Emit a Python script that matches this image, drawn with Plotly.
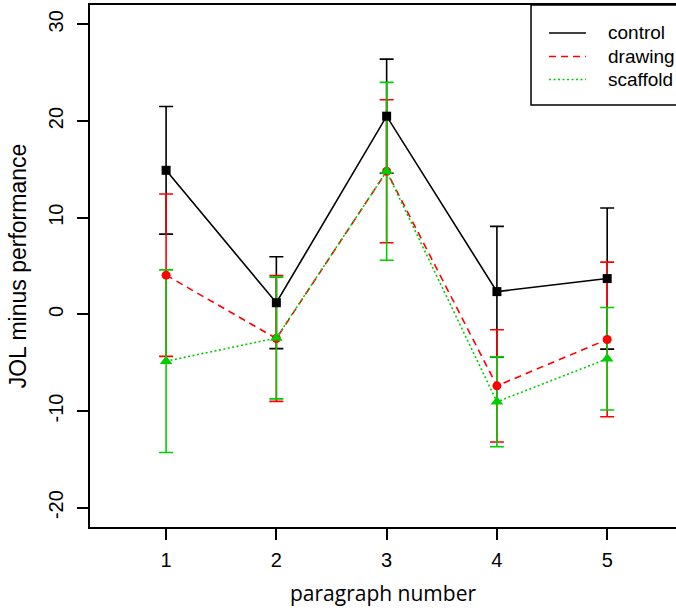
import plotly.graph_objects as go

paragraphs = [1, 2, 3, 4, 5]
tick_vals_y = [-20, -10, 0, 10, 20, 30]

control_mean = [14.9, 1.2, 20.5, 2.35, 3.7]
control_err = [6.6, 4.75, 5.9, 6.75, 7.3]
drawing_mean = [4.05, -2.5, 14.8, -7.4, -2.6]
drawing_err = [8.4, 6.5, 7.4, 5.8, 8.0]
scaffold_mean = [-4.85, -2.45, 14.8, -9.05, -4.6]
scaffold_err = [9.45, 6.3, 9.2, 4.65, 5.3]

series = [
    ("control", control_mean, control_err, "#000000", "solid", "square", 9),
    ("drawing", drawing_mean, drawing_err, "#FF0000", "7px,5px", "circle", 9),
    ("scaffold", scaffold_mean, scaffold_err, "#00CD00", "2px,2.5px", "triangle-up", 11),
]

fig = go.Figure()

# error bars first (underneath)
for name, m, e, col, dash, sym, sz in series:
    fig.add_trace(go.Scatter(
        x=paragraphs, y=m, mode="markers",
        marker=dict(size=1, color="rgba(0,0,0,0)"),
        error_y=dict(type="data", array=e, visible=True, color=col,
                     thickness=1.6, width=7),
        showlegend=False, hoverinfo="skip",
    ))

# lines and markers
for name, m, e, col, dash, sym, sz in series:
    fig.add_trace(go.Scatter(
        x=paragraphs, y=m, mode="lines+markers", name=name,
        line=dict(color=col, dash=dash, width=1.6),
        marker=dict(symbol=sym, size=sz, color=col),
        showlegend=False,
    ))

# legend drawn by hand so that its box can run off the right edge, as in the original
leg_x0, leg_x1, leg_y0, leg_y1 = 0.7526, 1.06, 0.8084, 1.0
leg_line_x0, leg_line_x1, leg_text_x = 0.7833, 0.8464, 0.8805
leg_rows = [0.9464, 0.9013, 0.8573]
shapes = [dict(type="rect", xref="paper", yref="paper", x0=leg_x0, x1=leg_x1,
               y0=leg_y0, y1=leg_y1, line=dict(color="black", width=1.5),
               fillcolor="white", layer="above")]
annotations = []
for (name, m, e, col, dash, sym, sz), ry in zip(series, leg_rows):
    shapes.append(dict(type="line", xref="paper", yref="paper",
                       x0=leg_line_x0, x1=leg_line_x1, y0=ry, y1=ry,
                       line=dict(color=col, dash=dash, width=1.6), layer="above"))
    annotations.append(dict(xref="paper", yref="paper", x=leg_text_x, y=ry,
                            xanchor="left", yanchor="middle", text=name,
                            showarrow=False, font=dict(size=19)))

fig.update_layout(
    width=676, height=612,
    margin=dict(l=90, r=0, t=5, b=85),
    plot_bgcolor="white", paper_bgcolor="white",
    font=dict(family="Arial, Liberation Sans, sans-serif", color="black", size=19),
    showlegend=False,
    shapes=shapes,
    annotations=annotations,
    xaxis=dict(
        range=[0.31, 5.624], tickvals=paragraphs, ticktext=[str(p) for p in paragraphs],
        showgrid=False, zeroline=False, showline=True, linecolor="black", linewidth=1.5,
        mirror=True, ticks="outside", ticklen=11, tickwidth=1.5, tickcolor="black",
        tickfont=dict(size=20), ticklabelstandoff=3,
        title=dict(text="paragraph number", font=dict(size=21, family="Open Sans, sans-serif"), standoff=17),
    ),
    yaxis=dict(
        range=[-22, 32], tickvals=tick_vals_y, ticktext=[str(v) for v in tick_vals_y],
        showgrid=False, zeroline=False, showline=True, linecolor="black", linewidth=1.5,
        mirror=False, ticks="outside", ticklen=11, tickwidth=1.5, tickcolor="black",
        tickangle=-90, tickfont=dict(size=20), ticklabelstandoff=6,
        title=dict(text="JOL minus performance", font=dict(size=23), standoff=12),
    ),
)

fig.write_html(
    "out.html",
    config={"displayModeBar": False},
    post_script="document.body.style.margin='0';document.body.style.overflow='hidden';",
)
